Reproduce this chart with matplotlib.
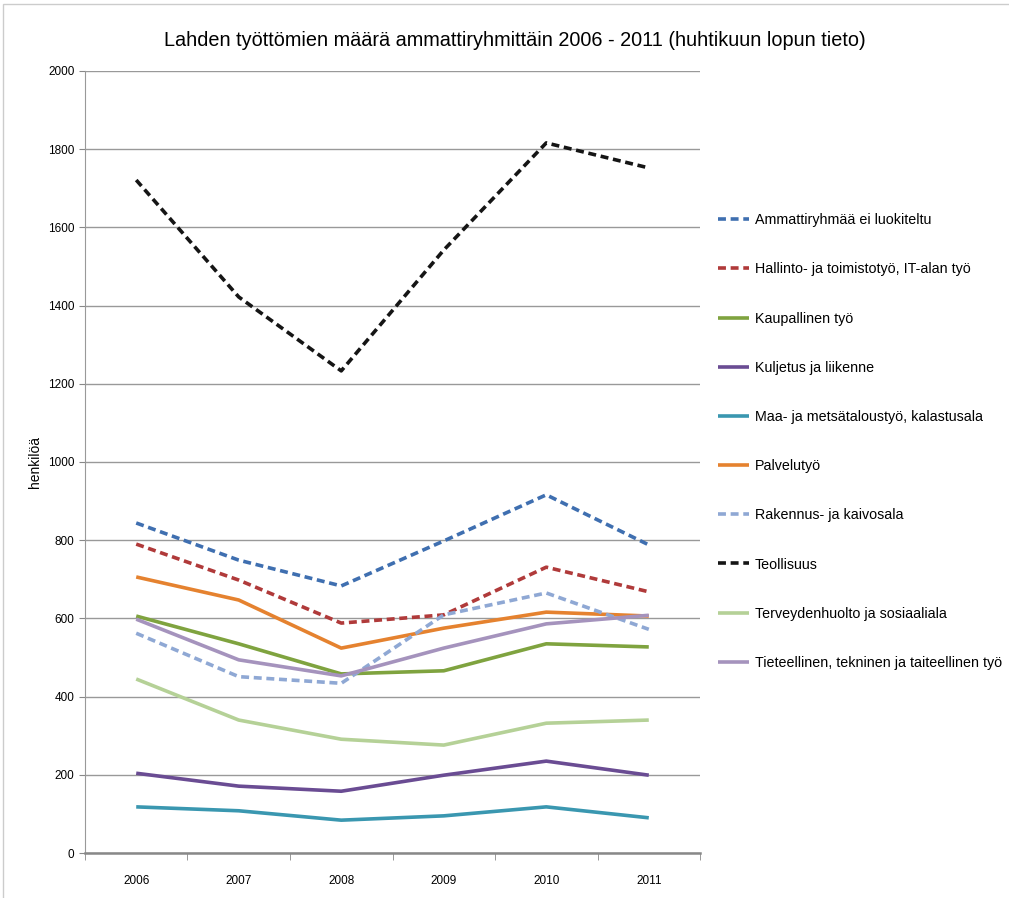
import numpy as np
import matplotlib.pyplot as plt
from matplotlib.patches import Rectangle

plt.rcParams['font.family'] = ['Liberation Sans', 'DejaVu Sans']

years = ['2006', '2007', '2008', '2009', '2010', '2011']

ammatti = [844, 749, 683, 798, 916, 788]
hallinto = [790, 698, 588, 609, 731, 668]
kaupallinen = [606, 535, 458, 466, 535, 527]
kuljetus = [204, 171, 158, 199, 235, 199]
maa = [118, 108, 84, 95, 118, 90]
palvelu = [706, 647, 524, 575, 616, 606]
rakennus = [562, 451, 434, 609, 665, 572]
teollisuus = [1721, 1422, 1233, 1542, 1816, 1752]
terveys = [445, 340, 291, 276, 332, 340]
tieteellinen = [598, 494, 453, 524, 586, 608]

series = [
    ("Ammattiryhmää ei luokiteltu", ammatti, '#3F6FB0', True),
    ("Hallinto- ja toimistotyö, IT-alan työ", hallinto, '#B03A3A', True),
    ("Kaupallinen työ", kaupallinen, '#7FA33F', False),
    ("Kuljetus ja liikenne", kuljetus, '#6A4C93', False),
    ("Maa- ja metsätaloustyö, kalastusala", maa, '#3A97B0', False),
    ("Palvelutyö", palvelu, '#E5822F', False),
    ("Rakennus- ja kaivosala", rakennus, '#8FA8D4', True),
    ("Teollisuus", teollisuus, '#151515', True),
    ("Terveydenhuolto ja sosiaaliala", terveys, '#B5D197', False),
    ("Tieteellinen, tekninen ja taiteellinen työ", tieteellinen, '#A593BD', False),
]

fig = plt.figure(figsize=(10.09, 8.98), dpi=100)
ax = fig.add_axes([0.0842, 0.0501, 0.6096, 0.8709])

x = np.arange(len(years))
for name, vals, col, dashed in series:
    ls = (0, (2.2, 1.3)) if dashed else '-'
    ax.plot(x, vals, color=col, lw=2.6, ls=ls, label=name, solid_capstyle='butt')

ax.set_xlim(-0.5, 5.5)
ax.set_ylim(0, 2000)
ax.set_yticks(range(0, 2001, 200))
ax.set_xticks(x)
ax.set_xticklabels(years)
ax.set_xticks(np.arange(-0.5, 6, 1), minor=True)
ax.tick_params(axis='x', which='major', length=0, pad=16, labelsize=8.5)
ax.tick_params(axis='x', which='minor', length=5, color='#888888')
ax.tick_params(axis='y', length=4, color='#888888', labelsize=8.5)
ax.grid(axis='y', color='#999999', lw=1)
ax.set_axisbelow(True)
for s in ['top', 'right']:
    ax.spines[s].set_visible(False)
ax.spines['left'].set_color('#999999')
ax.spines['bottom'].set_color('#888888')
ax.spines['bottom'].set_linewidth(1.8)

ax.set_ylabel("henkilöä", fontsize=10)
ax.yaxis.set_label_coords(-0.07, 0.5)

fig.text(0.51, 0.955, "Lahden työttömien määrä ammattiryhmittäin 2006 - 2011 (huhtikuun lopun tieto)",
         ha='center', va='center', fontsize=14.3)

fig.legend(loc='upper left', bbox_to_anchor=(0.706, 0.769), frameon=False,
           fontsize=10.3, handlelength=2.17, handletextpad=0.38, labelspacing=2.46,
           borderaxespad=0)

fig.patches.append(Rectangle((0.003, -0.01), 1.2, 1.006, transform=fig.transFigure,
                             fill=False, edgecolor='#cccccc', lw=1))

fig.savefig("out.png", dpi=100)
